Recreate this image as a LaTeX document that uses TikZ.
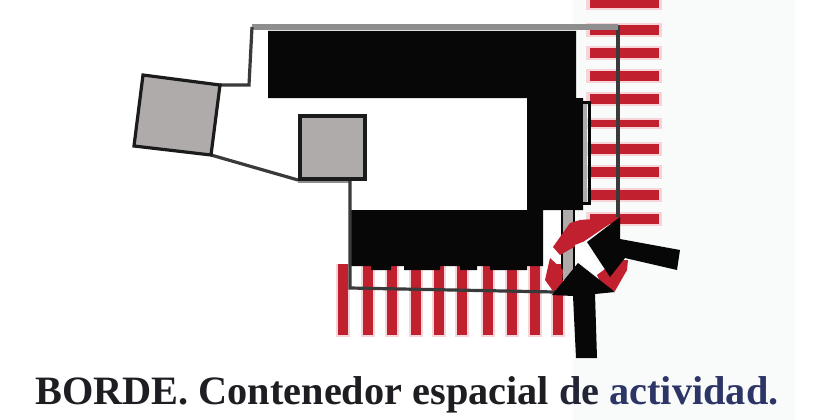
\documentclass[tikz,border=0pt]{standalone}
\usepackage{fontspec}
\setmainfont{Liberation Serif}
\definecolor{cred}{HTML}{C1202E}
\definecolor{chalo}{HTML}{F5D5D8}
\definecolor{cgrey}{HTML}{AFABAA}
\definecolor{cpanel}{HTML}{F9FBFB}
\definecolor{cblack}{HTML}{080708}
\definecolor{cline}{HTML}{3A3A3A}
\definecolor{ctop}{HTML}{8E8E8E}
\definecolor{ctext}{HTML}{1E1E22}
\definecolor{cblue}{HTML}{2C3566}
\tikzset{
  greybox/.style={fill=cgrey,draw=cblack!92!white,line width=3.2pt,line join=miter},
  wall/.style={draw=cline,line width=3.2pt,line join=miter},
  caption/.style={inner sep=0pt,anchor=base west,font=\bfseries\fontsize{40.3}{44}\selectfont,text=ctext}
}
\begin{document}
\begin{tikzpicture}[x=1pt,y=-1pt]
\useasboundingbox (0,0) rectangle (840,420);
\fill[white] (0,0) rectangle (840,420);
\fill[cpanel] (573,0) rectangle (795,420);
% horizontal red stripes
\foreach \a/\b in {-3/8,25/35,48/58,71/81,94/104,120/127,144/154,167/177,190/200,214/224}{
  \fill[chalo] (586,\a-2) rectangle (662,\b+2);
  \fill[cred] (590,\a) rectangle (659,\b);
}
% vertical red stripes
\foreach \a in {338,363,387,411,434,457,483,507,530,553}{
  \fill[chalo] (\a-2,264) rectangle (\a+12,337);
  \fill[cred] (\a,264) rectangle (\a+10,335);
}
% black building
\fill[cblack] (268,31) -- (576,31) -- (576,98) -- (583,98) -- (583,210) -- (543,210) -- (543,266)
  -- (527,266) -- (527,270) -- (490,270) -- (490,266) -- (477,266) -- (477,270) -- (460,270) -- (460,266)
  -- (440,266) -- (440,270) -- (404,270) -- (404,266) -- (391,266) -- (391,270) -- (371,270) -- (371,266)
  -- (350,266) -- (350,210) -- (527,210) -- (527,98) -- (268,98) -- cycle;
% outline
\draw[cline,line width=3.6pt] (618,25) -- (618,218);
\draw[ctop,line width=6pt] (252,27) -- (618,27);
\draw[wall] (252,27) -- (249,85) -- (220,85);
\draw[wall] (211,155) -- (298,180);
\draw[ctop,line width=3pt] (298,181.5) -- (350,181.5);
\draw[wall] (350,180) -- (350,288) -- (555,292);
% entrance strip and side strip
\fill[cgrey] (562,210) rectangle (574,280);
\draw[cblack,line width=2.5pt] (562,210) -- (562,280) (574,210) -- (574,280);
\fill[cgrey] (583,101) rectangle (587,204);
\draw[cblack,line width=3pt] (583,102.5) -- (589,102.5) -- (589,203) -- (583,203);
% grey squares
\draw[greybox] (143,75) -- (220,85) -- (211,155) -- (134,146) -- cycle;
\draw[greybox] (300,116) rectangle (365,179);
% red ring
\fill[cred] (553,247) -- (570,223) -- (580,220) -- (620,217) -- (583,242) -- (560,255) -- cycle;
\fill[cred] (550,258) -- (563,270) -- (562,285) -- (553,291) -- (545,280) -- cycle;
\fill[cred] (597,275) -- (617,260) -- (628,260) -- (627,270) -- (615,291) -- (603,288) -- cycle;
\fill[white] (575,245) -- (583,242) -- (600,268) -- (595,275) -- (575,257) -- cycle;
% arrows
\fill[cblack] (578,263) -- (615,292) -- (595,294) -- (597,358) -- (576,358) -- (573,296) -- (552,295) -- cycle;
\fill[cblack] (587,242) -- (620,217) -- (620,239) -- (680,250) -- (677,270) -- (625,258) -- (610,277) -- cycle;
% caption
\node[caption] (cap) at (35,404) {BORDE. Contenedor espacial \textcolor{ctext!70!cblue}{de} \textcolor{cblue}{actividad.}};
\end{tikzpicture}
\end{document}
